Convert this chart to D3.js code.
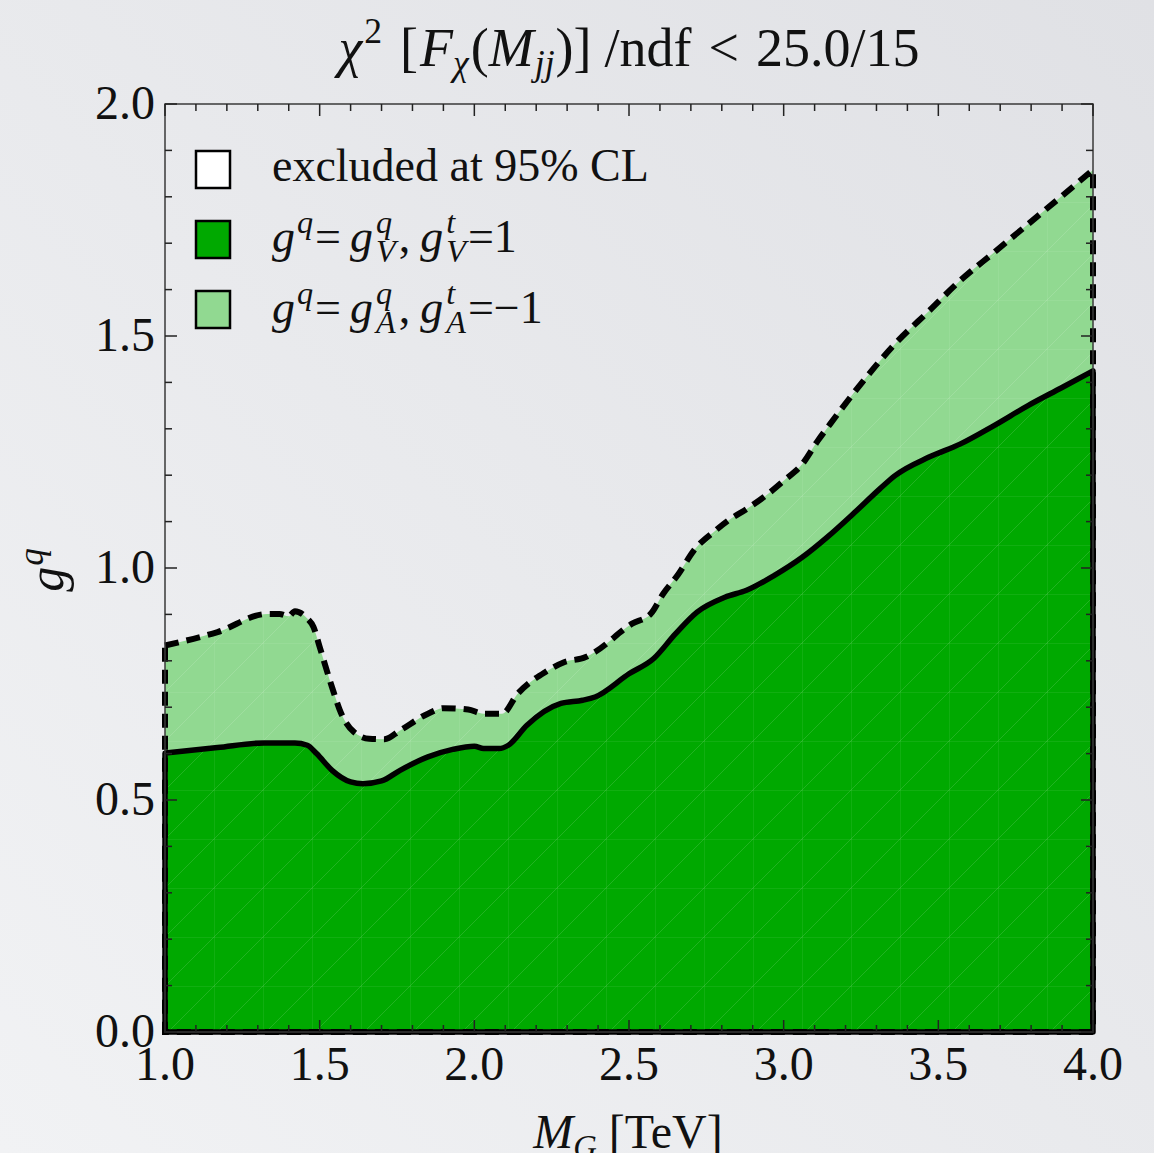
<!DOCTYPE html>
<html>
<head>
<meta charset="utf-8">
<script src="https://cdn.jsdelivr.net/npm/d3@7.9.0/dist/d3.min.js"></script>
<style>
  html, body { margin: 0; padding: 0; }
  body { width: 1154px; height: 1153px; overflow: hidden; }
  text { font-family: "Liberation Serif", "DejaVu Serif", serif; fill: #111; }
</style>
</head>
<body>
<svg id="chart" width="1154" height="1153"></svg>
<script>
// solid boundary: g^q = g^q_V, g^t_V = 1
const vectorMass = [1.00, 1.17, 1.32, 1.42, 1.46, 1.49, 1.54, 1.60, 1.64, 1.70, 1.76, 1.85, 1.93, 2.00, 2.03,
  2.08, 2.11, 2.17, 2.28, 2.35, 2.39, 2.50, 2.58, 2.65, 2.72, 2.81, 2.88, 2.97, 3.06, 3.14, 3.23, 3.31,
  3.36, 3.47, 3.57, 3.68, 3.79, 3.90, 4.00];
const vectorCoupling = [0.601, 0.613, 0.623, 0.623, 0.618, 0.600, 0.564, 0.539, 0.535, 0.541, 0.564, 0.593, 0.609, 0.616, 0.611,
  0.611, 0.618, 0.661, 0.708, 0.715, 0.722, 0.772, 0.805, 0.858, 0.905, 0.937, 0.952, 0.984, 1.023, 1.066, 1.120, 1.170,
  1.199, 1.239, 1.267, 1.307, 1.350, 1.389, 1.425];

// dashed boundary: g^q = g^q_A, g^t_A = -1
const axialMass = [1.00, 1.17, 1.33, 1.37, 1.40, 1.42, 1.46, 1.48, 1.50, 1.54, 1.57, 1.61, 1.66, 1.71, 1.76,
  1.85, 1.90, 1.98, 2.03, 2.09, 2.14, 2.23, 2.29, 2.36, 2.39, 2.51, 2.57, 2.61, 2.66, 2.71, 2.78, 2.82,
  2.88, 2.95, 3.00, 3.06, 3.11, 3.15, 3.25, 3.36, 3.47, 3.57, 3.68, 3.79, 3.90, 4.00];
const axialCoupling = [0.833, 0.862, 0.901, 0.901, 0.896, 0.907, 0.891, 0.873, 0.830, 0.743, 0.686, 0.647, 0.632, 0.631, 0.650,
  0.686, 0.698, 0.695, 0.686, 0.686, 0.729, 0.776, 0.797, 0.808, 0.819, 0.880, 0.901, 0.944, 0.987, 1.038, 1.081, 1.102,
  1.127, 1.160, 1.188, 1.224, 1.274, 1.310, 1.397, 1.483, 1.554, 1.619, 1.680, 1.741, 1.802, 1.858];

const xTicks = [1.0, 1.5, 2.0, 2.5, 3.0, 3.5, 4.0];
const yTicks = [0.0, 0.5, 1.0, 1.5, 2.0];
const legendLabels = ['excluded at 95% CL', 'vector', 'axial'];

const darkGreen = '#00a900';
const lightGreen = '#91d991';

const svg = d3.select('#chart');
const plot = { left: 165, right: 1093, top: 104, bottom: 1032 };

const x = d3.scaleLinear().domain([1, 4]).range([plot.left, plot.right]);
const y = d3.scaleLinear().domain([0, 2]).range([plot.bottom, plot.top]);

// background
const defs = svg.append('defs');
const bg = defs.append('linearGradient').attr('id', 'bg')
  .attr('x1', '0%').attr('y1', '100%').attr('x2', '100%').attr('y2', '0%');
bg.append('stop').attr('offset', '0%').attr('stop-color', '#f1f2f4');
bg.append('stop').attr('offset', '100%').attr('stop-color', '#e0e1e5');
svg.append('rect').attr('width', 1154).attr('height', 1153).attr('fill', 'url(#bg)');

// faint mesh seen in the filled regions
const mesh = defs.append('pattern').attr('id', 'mesh').attr('patternUnits', 'userSpaceOnUse')
  .attr('x', plot.left).attr('y', plot.top).attr('width', 49).attr('height', 49);
mesh.append('path').attr('d', 'M0,0V49M0,0H49M0,49L49,0')
  .attr('stroke', '#fff').attr('stroke-opacity', 0.13).attr('stroke-width', 1).attr('fill', 'none');

const vector = vectorMass.map((m, i) => [m, vectorCoupling[i]]);
const axial = axialMass.map((m, i) => [m, axialCoupling[i]]);

const area = d3.area()
  .x(d => x(d[0]))
  .y0(y(0))
  .y1(d => y(d[1]))
  .curve(d3.curveMonotoneX);

const areaClosed = data => area(data) + 'Z';

svg.append('path').attr('d', areaClosed(axial)).attr('fill', lightGreen);
svg.append('path').attr('d', areaClosed(vector)).attr('fill', darkGreen);
svg.append('path').attr('d', areaClosed(axial)).attr('fill', 'url(#mesh)');

svg.append('path').attr('d', areaClosed(axial))
  .attr('fill', 'none').attr('stroke', '#000').attr('stroke-width', 6)
  .attr('stroke-dasharray', '14,8');
svg.append('path').attr('d', areaClosed(vector))
  .attr('fill', 'none').attr('stroke', '#000').attr('stroke-width', 5.5)
  .attr('stroke-linejoin', 'round');

// frame with inward ticks on all sides
svg.append('rect')
  .attr('x', plot.left).attr('y', plot.top)
  .attr('width', plot.right - plot.left).attr('height', plot.bottom - plot.top)
  .attr('fill', 'none').attr('stroke', '#3a3a3a').attr('stroke-width', 1.5);

const tickG = svg.append('g').attr('stroke', '#222').attr('stroke-width', 1.5);
const minorX = d3.range(10, 41).map(d => d / 10);
const minorY = d3.range(0, 21).map(d => d / 10);
const isMajor = v => Math.abs(v * 2 - Math.round(v * 2)) < 1e-6;
minorX.forEach(v => {
  const len = isMajor(v) ? 12 : 7;
  tickG.append('line').attr('x1', x(v)).attr('x2', x(v)).attr('y1', plot.bottom).attr('y2', plot.bottom - len);
  tickG.append('line').attr('x1', x(v)).attr('x2', x(v)).attr('y1', plot.top).attr('y2', plot.top + len);
});
minorY.forEach(v => {
  const len = isMajor(v) ? 12 : 7;
  tickG.append('line').attr('y1', y(v)).attr('y2', y(v)).attr('x1', plot.left).attr('x2', plot.left + len);
  tickG.append('line').attr('y1', y(v)).attr('y2', y(v)).attr('x1', plot.right).attr('x2', plot.right - len);
});

svg.append('g').selectAll('text').data(xTicks).join('text')
  .attr('x', d => x(d)).attr('y', plot.bottom + 48)
  .attr('text-anchor', 'middle').attr('font-size', 48)
  .text(d => d.toFixed(1));

svg.append('g').selectAll('text').data(yTicks).join('text')
  .attr('x', plot.left - 10).attr('y', d => y(d) + 15)
  .attr('text-anchor', 'end').attr('font-size', 48)
  .text(d => d.toFixed(1));

// rich text helper: pieces laid out left to right, sup/sub can stack
function richText(parent, x0, y0, pieces, size, anchor) {
  const g = parent.append('g');
  let cursor = 0, hold = null;
  pieces.forEach(p => {
    const t = g.append('text')
      .attr('y', y0 + (p.dy || 0))
      .attr('font-size', size * (p.s || 1))
      .attr('font-style', p.it ? 'italic' : 'normal')
      .style('white-space', 'pre')
      .text(p.t);
    const w = t.node().getComputedTextLength();
    if (hold !== null) {
      t.attr('x', hold.x);
      cursor = hold.x + Math.max(w, hold.w);
      hold = null;
    } else {
      cursor += p.gap || 0;
      t.attr('x', cursor);
      if (p.hold) hold = { x: cursor, w: w };
      else cursor += w;
    }
  });
  const shift = anchor === 'middle' ? -cursor / 2 : 0;
  g.attr('transform', `translate(${x0 + shift},0)`);
  return g;
}

// title
richText(svg, 629, 66, [
  { t: 'χ', it: true },
  { t: '2', s: 0.66, dy: -23, gap: 2 },
  { t: '[', gap: 18 },
  { t: 'F', it: true, gap: 2 },
  { t: 'χ', it: true, s: 0.66, dy: 9 },
  { t: '(', gap: 2 },
  { t: 'M', it: true },
  { t: 'jj', it: true, s: 0.66, dy: 9, gap: 1 },
  { t: ')]', gap: 1 },
  { t: '/ndf', gap: 13 },
  { t: '<', gap: 17 },
  { t: '25.0/15', gap: 17 }
], 54, 'middle');

// x axis label
richText(svg, 628, 1148, [
  { t: 'M', it: true },
  { t: 'G', it: true, s: 0.68, dy: 10 },
  { t: '[TeV]', gap: 12 }
], 48, 'middle');

// y axis label
const yl = svg.append('g').attr('transform', 'translate(63,570) rotate(-90)');
richText(yl, 0, 0, [
  { t: 'g', it: true },
  { t: 'q', it: true, s: 0.7, dy: -20, gap: 1 }
], 50, 'middle');

// legend
const legend = svg.append('g');
const legendFills = ['#ffffff', darkGreen, lightGreen];
const legendY = [151, 221, 291];
legendFills.forEach((f, i) => {
  legend.append('rect').attr('x', 196).attr('y', legendY[i]).attr('width', 34).attr('height', 37)
    .attr('fill', f).attr('stroke', '#000').attr('stroke-width', 2.5);
});
richText(legend, 272, 181, [{ t: legendLabels[0] }], 46);
const couplingRow = (sub, val) => [
  { t: 'g', it: true },
  { t: 'q', it: true, s: 0.7, dy: -19, gap: 2 },
  { t: '=', gap: 2 },
  { t: 'g', it: true, gap: 9 },
  { t: 'q', it: true, s: 0.7, dy: -19, hold: true, gap: 3 },
  { t: sub, it: true, s: 0.7, dy: 10 },
  { t: ',', gap: 3 },
  { t: 'g', it: true, gap: 10 },
  { t: 't', it: true, s: 0.7, dy: -19, hold: true, gap: 3 },
  { t: sub, it: true, s: 0.7, dy: 10 },
  { t: val, gap: 2 }
];
richText(legend, 272, 252, couplingRow('V', '=1'), 46);
richText(legend, 272, 323, couplingRow('A', '=\u22121'), 46);
</script>
</body>
</html>
